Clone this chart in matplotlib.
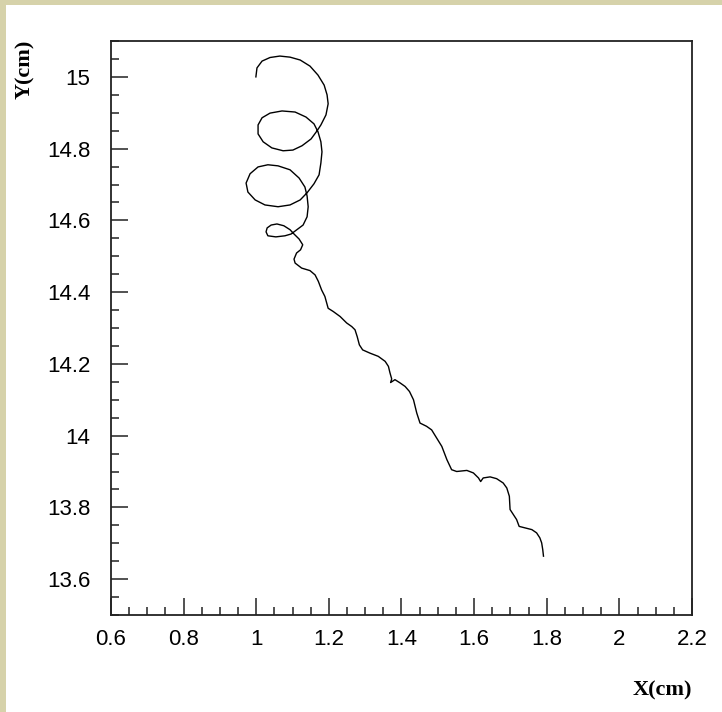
import matplotlib
matplotlib.use("Agg")
import matplotlib.pyplot as plt
from matplotlib.patches import Rectangle
from matplotlib.ticker import MultipleLocator, FixedLocator

# track (cm)
x_cm = [0.999, 1.002, 1.016, 1.038, 1.065, 1.093, 1.121, 1.148, 1.170, 1.187,
        1.195, 1.198, 1.192, 1.178, 1.167, 1.151, 1.126, 1.101, 1.074, 1.043,
        1.019, 1.005, 1.005, 1.016, 1.038, 1.071, 1.107, 1.137, 1.159, 1.170,
        1.178, 1.181, 1.178, 1.173, 1.159, 1.140, 1.121, 1.093, 1.060, 1.024,
        0.997, 0.977, 0.972, 0.983, 1.005, 1.032, 1.060, 1.093, 1.118, 1.134,
        1.140, 1.143, 1.140, 1.129, 1.112, 1.096, 1.079, 1.054, 1.032, 1.027,
        1.030, 1.041, 1.057, 1.076, 1.093, 1.104, 1.118, 1.128, 1.122, 1.111,
        1.104, 1.107, 1.125, 1.148, 1.162, 1.171, 1.180, 1.189, 1.194, 1.198,
        1.212, 1.231, 1.249, 1.263, 1.272, 1.278, 1.284, 1.293, 1.313, 1.336,
        1.355, 1.364, 1.368, 1.373, 1.370, 1.382, 1.396, 1.410, 1.422, 1.433,
        1.442, 1.451, 1.469, 1.483, 1.497, 1.511, 1.525, 1.538, 1.552, 1.580,
        1.598, 1.612, 1.618, 1.625, 1.644, 1.662, 1.680, 1.690, 1.697, 1.699,
        1.708, 1.717, 1.724, 1.740, 1.759, 1.772, 1.781, 1.786, 1.789, 1.791]
y_cm = [15.000, 15.025, 15.044, 15.054, 15.058, 15.055, 15.047, 15.030, 15.005, 14.977,
        14.950, 14.925, 14.894, 14.866, 14.849, 14.827, 14.808, 14.796, 14.794, 14.802,
        14.819, 14.841, 14.866, 14.886, 14.899, 14.905, 14.902, 14.888, 14.869, 14.847,
        14.819, 14.791, 14.760, 14.727, 14.702, 14.677, 14.657, 14.643, 14.638, 14.643,
        14.657, 14.679, 14.704, 14.730, 14.749, 14.755, 14.752, 14.741, 14.718, 14.693,
        14.668, 14.638, 14.610, 14.587, 14.574, 14.562, 14.557, 14.554, 14.557, 14.568,
        14.579, 14.587, 14.590, 14.585, 14.574, 14.562, 14.548, 14.532, 14.518, 14.509,
        14.492, 14.481, 14.467, 14.460, 14.448, 14.430, 14.406, 14.388, 14.369, 14.355,
        14.346, 14.332, 14.314, 14.304, 14.295, 14.276, 14.253, 14.239, 14.230, 14.221,
        14.207, 14.193, 14.176, 14.158, 14.148, 14.156, 14.147, 14.137, 14.123, 14.100,
        14.063, 14.035, 14.026, 14.016, 13.993, 13.970, 13.933, 13.905, 13.900, 13.903,
        13.896, 13.882, 13.872, 13.882, 13.885, 13.880, 13.868, 13.854, 13.831, 13.794,
        13.780, 13.766, 13.747, 13.743, 13.738, 13.729, 13.715, 13.701, 13.682, 13.664]

x_ticks = [0.6, 0.8, 1.0, 1.2, 1.4, 1.6, 1.8, 2.0, 2.2]
x_labels = ["0.6", "0.8", "1", "1.2", "1.4", "1.6", "1.8", "2", "2.2"]
y_ticks = [13.6, 13.8, 14.0, 14.2, 14.4, 14.6, 14.8, 15.0]
y_labels = ["13.6", "13.8", "14", "14.2", "14.4", "14.6", "14.8", "15"]

W, H = 722, 712
fig = plt.figure(figsize=(W / 100, H / 100), dpi=100)
fig.patch.set_facecolor("#d6d2aa")
fig.add_artist(Rectangle((6 / W, 0), 1, 1 - 5 / H, transform=fig.transFigure,
                         facecolor="white", edgecolor="none", zorder=-1))

ax = fig.add_axes([111 / W, 1 - 615 / H, 581 / W, 574 / H])
ax.plot(x_cm, y_cm, color="black", lw=1.0)

ax.set_xlim(0.6, 2.2)
ax.set_ylim(13.5, 15.1)
ax.xaxis.set_major_locator(FixedLocator(x_ticks))
ax.set_xticklabels(x_labels)
ax.yaxis.set_major_locator(FixedLocator(y_ticks))
ax.set_yticklabels(y_labels)
ax.xaxis.set_minor_locator(MultipleLocator(0.05))
ax.yaxis.set_minor_locator(MultipleLocator(0.05))

ax.tick_params(which="both", direction="in", top=False, right=False, width=1.1, color="#222222")
ax.tick_params(axis="x", which="major", length=12, pad=10)
ax.tick_params(axis="y", which="major", length=12, pad=15)
ax.tick_params(which="minor", length=6)
for lab in ax.get_xticklabels() + ax.get_yticklabels():
    lab.set_fontfamily("Liberation Sans")
    lab.set_fontsize(16)
for sp in ax.spines.values():
    sp.set_linewidth(1.3)
    sp.set_color("#222222")

fig.text(25 / W, 1 - 40 / H, "Y(cm)", rotation=90, ha="center", va="top",
         fontfamily="Liberation Serif", fontweight="bold", fontsize=16)
fig.text(692 / W, 1 - 690 / H, "X(cm)", ha="right", va="center",
         fontfamily="Liberation Serif", fontweight="bold", fontsize=16)

fig.savefig("out.png", dpi=100, facecolor=fig.get_facecolor())
